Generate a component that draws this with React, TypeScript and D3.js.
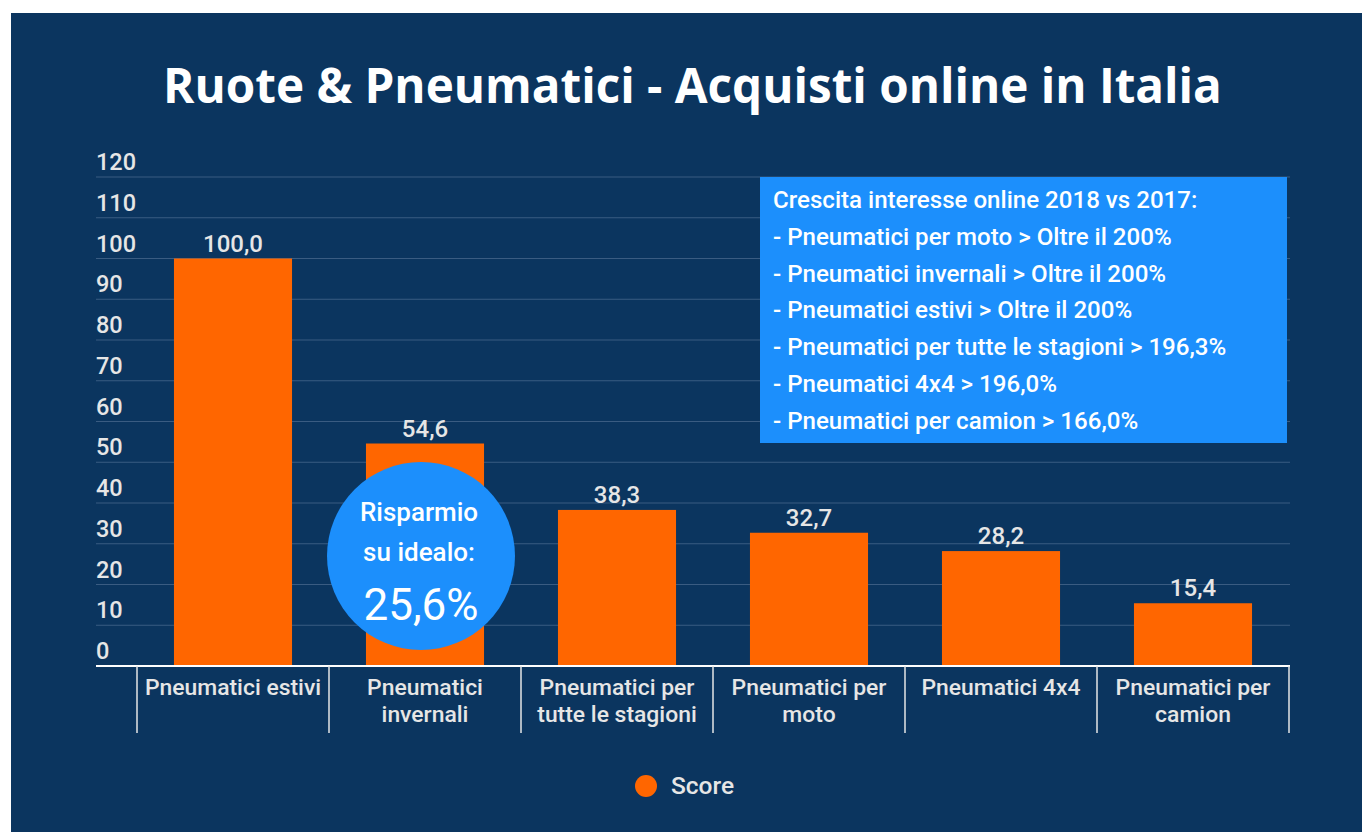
import React from "react";
import * as d3 from "d3";

const categories: string[][] = [
  ["Pneumatici estivi"],
  ["Pneumatici", "invernali"],
  ["Pneumatici per", "tutte le stagioni"],
  ["Pneumatici per", "moto"],
  ["Pneumatici 4x4"],
  ["Pneumatici per", "camion"],
];
const scores: number[] = [100.0, 54.6, 38.3, 32.7, 28.2, 15.4];
const yTicks: number[] = [0, 10, 20, 30, 40, 50, 60, 70, 80, 90, 100, 110, 120];
const infoLines: string[] = [
  "Crescita interesse online 2018 vs 2017:",
  "- Pneumatici per moto > Oltre il 200%",
  "- Pneumatici invernali > Oltre il 200%",
  "- Pneumatici estivi > Oltre il 200%",
  "- Pneumatici per tutte le stagioni > 196,3%",
  "- Pneumatici 4x4 > 196,0%",
  "- Pneumatici per camion > 166,0%",
];
const bubbleLines: string[] = ["Risparmio", "su idealo:"];
const bubbleValue = "25,6%";
const title = "Ruote & Pneumatici - Acquisti online in Italia";
const seriesName = "Score";

const W = 1362;
const H = 832;
const NAVY = "#0b355f";
const ORANGE = "#ff6600";
const BLUE = "#1c8ffc";
const GRID = "#3a5c82";
const LABEL = "#e6e6e6";
const FONT = "Roboto, sans-serif";

export default function App() {
  const keys = categories.map((c) => c.join(" "));
  const x = d3.scaleBand<string>().domain(keys).range([137, 1289]).paddingInner(0.385).paddingOuter(0.1925);
  const y = d3.scaleLinear().domain([0, 120]).range([666, 177]);
  const fmt = (v: number) => d3.format(".1f")(v).replace(".", ",");
  const step = x.step();
  const x0 = 137;

  return (
    <svg width={W} height={H} style={{ position: "absolute", left: 0, top: 0, display: "block" }}>
      <rect x={0} y={0} width={W} height={H} fill="#ffffff" />
      <rect x={11} y={13} width={W - 11} height={H - 13} fill={NAVY} />
      <text x={692.5} y={103} textAnchor="middle" fill="#ffffff" fontFamily="'Open Sans', sans-serif" fontWeight={700} fontSize={47.6}>
        {title}
      </text>

      {yTicks.map((t) => (
        <g key={t}>
          {t > 0 && <line x1={96} x2={1290} y1={y(t)} y2={y(t)} stroke={GRID} strokeWidth={1} />}
          <text x={96} y={y(t) - 7} fill={LABEL} fontFamily={FONT} fontWeight={500} fontSize={23.5}>
            {t}
          </text>
        </g>
      ))}

      {scores.map((v, i) => (
        <g key={keys[i]}>
          <rect x={x(keys[i])} y={y(v)} width={x.bandwidth()} height={y(0) - y(v)} fill={ORANGE} />
          <text x={(x(keys[i]) as number) + x.bandwidth() / 2} y={y(v) - 7} textAnchor="middle" fill={LABEL} fontFamily={FONT} fontWeight={500} fontSize={24}>
            {fmt(v)}
          </text>
        </g>
      ))}

      <line x1={96} x2={1290} y1={y(0)} y2={y(0)} stroke="#ffffff" strokeWidth={2} />
      {d3.range(keys.length + 1).map((i) => (
        <line key={i} x1={x0 + i * step} x2={x0 + i * step} y1={y(0)} y2={733} stroke="#e6e6e6" strokeWidth={1.5} />
      ))}
      {categories.map((lines, i) => (
        <text key={i} textAnchor="middle" fill={LABEL} fontFamily={FONT} fontWeight={500} fontSize={22.9}>
          {lines.map((l, j) => (
            <tspan key={j} x={(x(keys[i]) as number) + x.bandwidth() / 2} y={695 + j * 27}>
              {l}
            </tspan>
          ))}
        </text>
      ))}

      <rect x={760} y={177} width={527} height={266} fill={BLUE} />
      {infoLines.map((l, i) => (
        <text key={i} x={773} y={208 + i * 36.8} fill="#ffffff" fontFamily={FONT} fontWeight={500} fontSize={24.1}>
          {l}
        </text>
      ))}

      <circle cx={421} cy={556} r={94} fill={BLUE} />
      {bubbleLines.map((l, i) => (
        <text key={i} x={419} y={521 + i * 40} textAnchor="middle" fill="#ffffff" fontFamily={FONT} fontWeight={500} fontSize={26}>
          {l}
        </text>
      ))}
      <text x={421} y={620} textAnchor="middle" fill="#ffffff" fontFamily={FONT} fontSize={44}>
        {bubbleValue}
      </text>

      <circle cx={646} cy={786} r={11} fill={ORANGE} />
      <text x={671} y={794} fill={LABEL} fontFamily={FONT} fontWeight={500} fontSize={24.5}>
        {seriesName}
      </text>
    </svg>
  );
}
